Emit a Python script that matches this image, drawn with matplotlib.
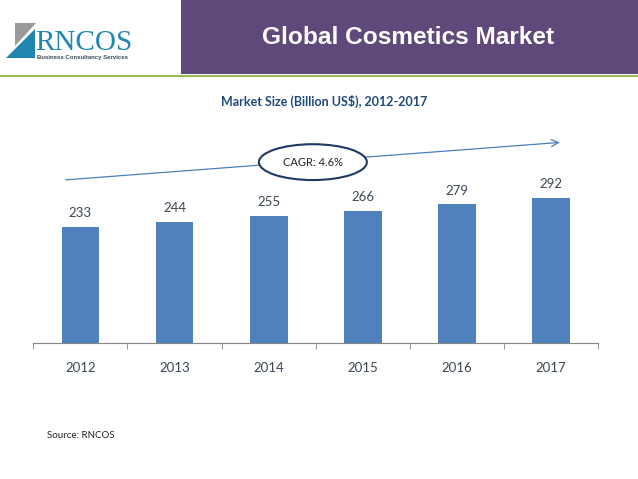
import matplotlib.pyplot as plt
from matplotlib.patches import Rectangle, Ellipse, Polygon
from matplotlib.lines import Line2D

# datos del gráfico
anios = ['2012', '2013', '2014', '2015', '2016', '2017']
valores = [233, 244, 255, 266, 279, 292]
titulo = 'Global Cosmetics Market'
subtitulo = 'Market Size (Billion US$), 2012-2017'
cagr = 'CAGR: 4.6%'
fuente = 'Source: RNCOS'

W, H = 638, 479


def fx(px):
    return px / W


def fy(py):
    return 1 - py / H


fig = plt.figure(figsize=(W / 100, H / 100), dpi=100)
fig.patch.set_facecolor('white')

# --- cabecera ---
fig.patches.append(Rectangle((fx(181), fy(74)), 1 - fx(181), 74 / H,
                             transform=fig.transFigure, facecolor='#5F497A',
                             edgecolor='none'))
fig.lines.append(Line2D([0, 1], [fy(75.5), fy(75.5)], transform=fig.transFigure,
                        color='#9BBB59', lw=1.5))
fig.text(fx(408), fy(38), titulo, color='white', fontsize=17.6, fontweight='bold',
         family='Liberation Sans', ha='center', va='center')

# logo
fig.patches.append(Polygon([(fx(15), fy(23)), (fx(36), fy(23)), (fx(15), fy(46))],
                           closed=True, transform=fig.transFigure,
                           facecolor='#9A9A9A', edgecolor='none'))
fig.patches.append(Polygon([(fx(6), fy(58)), (fx(35), fy(58)), (fx(35), fy(29))],
                           closed=True, transform=fig.transFigure,
                           facecolor='#1F86B0', edgecolor='none'))
fig.text(fx(35), fy(50), 'RNCOS', color='#1F86B0', fontsize=21,
         family='Liberation Serif', ha='left', va='baseline')
fig.text(fx(37), fy(58), 'Business Consultancy Services', color='#3A4A5A',
         fontsize=4.3, fontweight='bold', family='Liberation Sans',
         ha='left', va='center')

# --- gráfico de barras ---
ax_izq, ax_der, ax_base = 33.3, 598.3, 343.3
ymax = 420
px_por_unidad = 0.4977
ax = fig.add_axes([fx(ax_izq), fy(ax_base), (ax_der - ax_izq) / W,
                   ymax * px_por_unidad / H])
ax.set_facecolor('none')

x = list(range(len(anios)))
ax.bar(x, valores, width=0.4, color='#4F81BD', zorder=2)
ax.set_xlim(-0.5, len(anios) - 0.5)
ax.set_ylim(0, ymax)

for i, v in zip(x, valores):
    ax.annotate(str(v), (i, v), xytext=(0, 10), textcoords='offset points',
                ha='center', va='center', fontsize=9.5, color='#3B4656',
                family='Lato')

for s in ['top', 'right', 'left']:
    ax.spines[s].set_visible(False)
ax.spines['bottom'].set_color('#868686')
ax.set_yticks([])
ax.set_xticks(x)
ax.set_xticklabels(anios, fontsize=9.5, color='#3B4656', family='Lato')
ax.tick_params(axis='x', which='major', length=0, pad=13.5)
ax.set_xticks([i - 0.5 for i in range(len(anios) + 1)], minor=True)
ax.tick_params(axis='x', which='minor', length=4, color='#868686')

# flecha CAGR y elipse
ax.annotate('', xy=(5.12, 404), xytext=(-0.185, 328),
            arrowprops=dict(arrowstyle='->,head_length=0.5,head_width=0.25',
                            color='#4A7EBB', lw=0.9), zorder=3)
ax.add_patch(Ellipse((2.469, 364), 1.146, 72, facecolor='white',
                     edgecolor='#1F3864', lw=1.5, zorder=4, clip_on=False))
ax.text(2.469, 364, cagr, ha='center', va='center', fontsize=8,
        color='#222222', family='Lato', zorder=5)

# subtítulo y fuente
fig.text(fx(324), fy(101), subtitulo, ha='center', va='center', fontsize=9,
         fontweight='bold', color='#1F497D', family='Lato')
fig.text(fx(47), fy(436), fuente, ha='left', va='center', fontsize=7,
         color='#222222', family='Lato')

fig.savefig('out.png', dpi=100)
